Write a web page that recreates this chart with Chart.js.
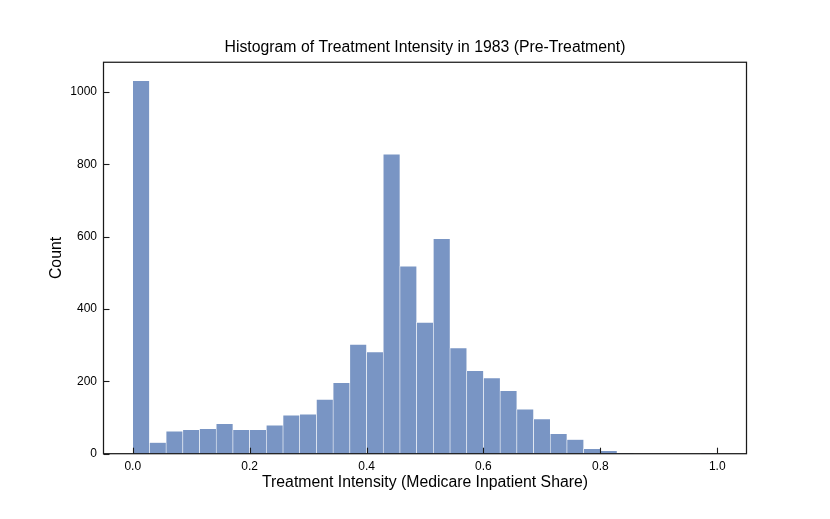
<!DOCTYPE html>
<html>
<head>
<meta charset="utf-8">
<script src="https://cdn.jsdelivr.net/npm/chart.js@4.4.1/dist/chart.umd.min.js"></script>
<style>
  html, body { margin: 0; padding: 0; background: #fff; }
  canvas { display: block; }
</style>
</head>
<body>
<canvas id="histChart" width="830" height="519"></canvas>
<script>
// Histogram of treatment intensity, 1983 (35 equal bins over 0..1)
const binLow = 0.0;
const binHigh = 1.0;
const counts = [1031, 31, 62, 66, 69, 83, 66, 66, 79, 106,
                109, 150, 196, 302, 281, 828, 518, 363, 594, 292,
                229, 209, 174, 123, 96, 55, 39, 14, 8, 2,
                0, 0, 0, 0, 1];
const xTickValues = [0.0, 0.2, 0.4, 0.6, 0.8, 1.0];
const yTickValues = [0, 200, 400, 600, 800, 1000];

const binWidth = (binHigh - binLow) / counts.length;
const points = counts.map((c, i) => ({ x: binLow + binWidth * (i + 0.5), y: c }));

const FONT = "'Liberation Sans', Arial, Helvetica, sans-serif";

// matplotlib-style frame with inward tick marks
const frameAndTicks = {
    id: 'frameAndTicks',
    afterDraw(chart) {
        const ctx = chart.ctx;
        const a = chart.chartArea;
        const xs = chart.scales.x, ys = chart.scales.y;
        ctx.save();
        ctx.strokeStyle = '#1a1a1a';
        ctx.lineWidth = 1.1;
        xTickValues.forEach(v => {
            const px = Math.round(xs.getPixelForValue(v)) + 0.5;
            ctx.beginPath();
            ctx.moveTo(px, a.bottom);
            ctx.lineTo(px, a.bottom - 6);
            ctx.stroke();
        });
        yTickValues.forEach(v => {
            const py = Math.round(ys.getPixelForValue(v)) + 0.5;
            ctx.beginPath();
            ctx.moveTo(a.left, py);
            ctx.lineTo(a.left + 6, py);
            ctx.stroke();
        });
        ctx.lineWidth = 1.25;
        ctx.strokeRect(a.left, a.top, a.right - a.left, a.bottom - a.top);
        ctx.restore();
    }
};

const ctx = document.getElementById('histChart').getContext('2d');
new Chart(ctx, {
    type: 'bar',
    data: {
        datasets: [{
            label: 'Count',
            data: points,
            backgroundColor: '#7995c4',
            borderColor: 'rgba(255,255,255,0.95)',
            borderWidth: 0.6,
            barPercentage: 1.0,
            categoryPercentage: 1.0
        }]
    },
    options: {
        responsive: false,
        animation: false,
        devicePixelRatio: 1,
        layout: { padding: { left: 0, right: 83.5, top: 0, bottom: 0 } },
        plugins: {
            legend: { display: false },
            tooltip: { enabled: false },
            title: {
                display: true,
                fullSize: false,
                text: 'Histogram of Treatment Intensity in 1983 (Pre-Treatment)',
                color: '#000',
                font: { family: FONT, size: 15.8, weight: 'normal' },
                padding: { top: 38.5, bottom: 4.8 }
            }
        },
        scales: {
            x: {
                type: 'linear',
                offset: false,
                min: -0.05,
                max: 1.05,
                grid: { display: false, drawTicks: false, offset: false },
                border: { display: false },
                afterBuildTicks: scale => { scale.ticks = xTickValues.map(v => ({ value: v })); },
                afterFit: scale => { scale.height = 65.3; },
                ticks: {
                    includeBounds: false,
                    color: '#000',
                    padding: 5.5,
                    maxRotation: 0,
                    font: { family: FONT, size: 12 },
                    callback: v => Number(v).toFixed(1)
                },
                title: {
                    display: true,
                    text: 'Treatment Intensity (Medicare Inpatient Share)',
                    color: '#000',
                    font: { family: FONT, size: 15.8 },
                    padding: { top: 2, bottom: 26.5 }
                }
            },
            y: {
                min: 0,
                max: 1082,
                grid: { display: false, drawTicks: false },
                border: { display: false },
                afterBuildTicks: scale => { scale.ticks = yTickValues.map(v => ({ value: v })); },
                afterFit: scale => { scale.width = 103.5; },
                ticks: {
                    includeBounds: false,
                    color: '#000',
                    padding: 6.5,
                    font: { family: FONT, size: 12 },
                    callback: v => String(v)
                },
                title: {
                    display: true,
                    text: 'Count',
                    color: '#000',
                    font: { family: FONT, size: 15.8 },
                    padding: { top: 47.2, bottom: 2 }
                }
            }
        }
    },
    plugins: [frameAndTicks]
});
</script>
</body>
</html>
